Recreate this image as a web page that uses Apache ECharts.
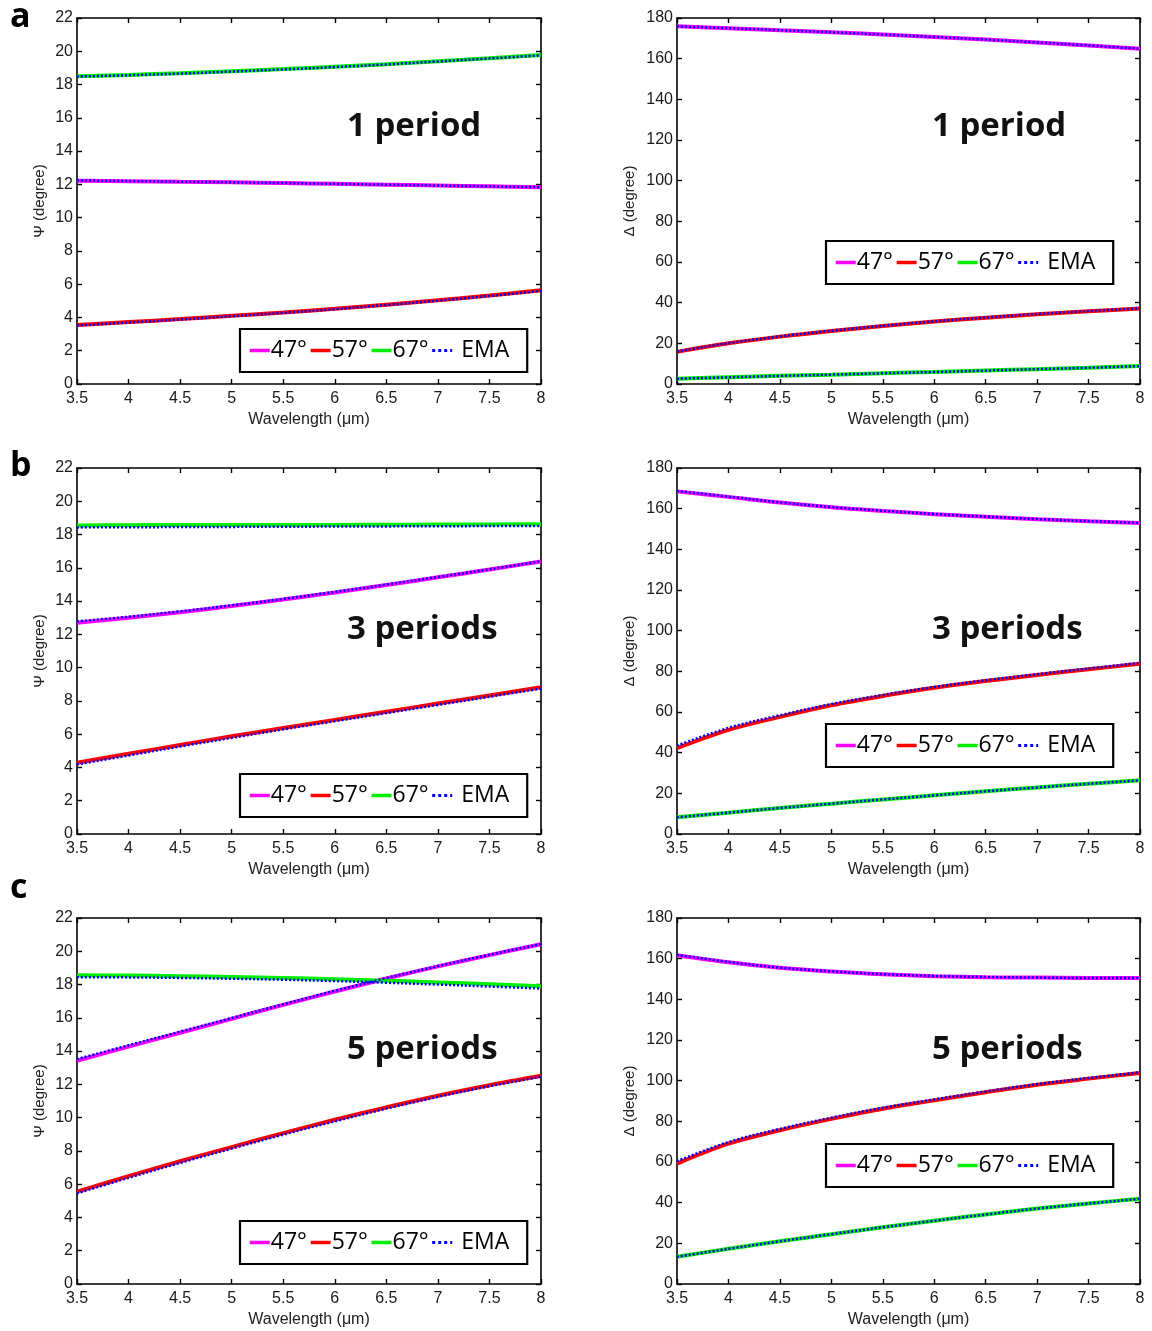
<!DOCTYPE html>
<html>
<head>
<meta charset="utf-8">
<script src="https://cdn.jsdelivr.net/npm/echarts@6/dist/echarts.min.js"></script>
<style>
  html, body { margin: 0; padding: 0; background: #fff; }
  #chart { width: 1152px; height: 1331px; }
</style>
</head>
<body>
<div id="chart"></div>
<script>
// wavelength samples (um)
const wavelength = [3.5, 4, 4.5, 5, 5.5, 6, 6.5, 7, 7.5, 8];
const xTicks = ['3.5', '4', '4.5', '5', '5.5', '6', '6.5', '7', '7.5', '8'];

// a: 1 period
const psiA47 = [12.22, 12.19, 12.15, 12.12, 12.08, 12.03, 11.98, 11.93, 11.88, 11.83];
const psiA57 = [3.55, 3.72, 3.90, 4.10, 4.30, 4.52, 4.77, 5.03, 5.32, 5.63];
const psiA67 = [18.50, 18.58, 18.68, 18.80, 18.93, 19.07, 19.22, 19.40, 19.58, 19.77];
const psiA47ema = [12.24, 12.20, 12.16, 12.12, 12.08, 12.03, 11.98, 11.93, 11.88, 11.83];
const psiA57ema = [3.52, 3.70, 3.88, 4.08, 4.28, 4.50, 4.75, 5.01, 5.29, 5.60];
const psiA67ema = [18.48, 18.56, 18.66, 18.78, 18.91, 19.05, 19.21, 19.39, 19.57, 19.76];
const dltA47 = [175.9, 175.0, 174.0, 173.0, 171.9, 170.7, 169.4, 168.0, 166.5, 164.9];
const dltA57 = [15.8, 20.0, 23.3, 26.1, 28.5, 30.7, 32.6, 34.3, 35.8, 37.1];
const dltA67 = [2.6, 3.3, 4.0, 4.6, 5.3, 5.9, 6.6, 7.3, 8.0, 8.8];
const dltA47ema = [175.9, 175.0, 174.0, 173.0, 171.9, 170.7, 169.4, 168.0, 166.5, 164.9];
const dltA57ema = [16.0, 20.1, 23.4, 26.2, 28.6, 30.8, 32.7, 34.4, 35.9, 37.2];
const dltA67ema = [2.6, 3.3, 4.0, 4.6, 5.3, 5.9, 6.6, 7.3, 8.0, 8.8];

// b: 3 periods
const psiB47 = [12.70, 13.00, 13.33, 13.70, 14.10, 14.52, 14.97, 15.43, 15.90, 16.38];
const psiB57 = [4.28, 4.82, 5.35, 5.87, 6.37, 6.86, 7.35, 7.84, 8.33, 8.82];
const psiB67 = [18.55, 18.56, 18.57, 18.57, 18.58, 18.58, 18.59, 18.60, 18.61, 18.62];
const psiB47ema = [12.78, 13.06, 13.38, 13.74, 14.13, 14.55, 14.99, 15.45, 15.91, 16.39];
const psiB57ema = [4.18, 4.72, 5.26, 5.78, 6.29, 6.78, 7.27, 7.76, 8.25, 8.74];
const psiB67ema = [18.43, 18.44, 18.45, 18.46, 18.47, 18.48, 18.49, 18.50, 18.51, 18.52];
const dltB47 = [168.5, 165.8, 163.0, 160.7, 158.9, 157.3, 156.0, 154.8, 153.8, 152.9];
const dltB57 = [42.2, 51.2, 57.6, 63.3, 67.9, 71.9, 75.2, 78.2, 81.0, 83.7];
const dltB67 = [8.2, 10.5, 12.8, 14.9, 17.0, 19.0, 21.0, 22.9, 24.7, 26.4];
const dltB47ema = [168.7, 165.9, 163.1, 160.8, 159.0, 157.4, 156.1, 154.9, 153.9, 153.0];
const dltB57ema = [43.5, 52.2, 58.4, 63.9, 68.4, 72.3, 75.6, 78.6, 81.4, 84.2];
const dltB67ema = [8.2, 10.5, 12.8, 14.9, 17.0, 19.0, 21.0, 22.9, 24.7, 26.4];

// c: 5 periods
const psiC47 = [13.42, 14.27, 15.10, 15.94, 16.78, 17.58, 18.36, 19.09, 19.77, 20.42];
const psiC57 = [5.55, 6.48, 7.38, 8.23, 9.07, 9.87, 10.62, 11.32, 11.95, 12.52];
const psiC67 = [18.56, 18.54, 18.50, 18.45, 18.39, 18.32, 18.23, 18.13, 18.02, 17.90];
const psiC47ema = [13.52, 14.35, 15.17, 15.99, 16.82, 17.62, 18.39, 19.11, 19.79, 20.43];
const psiC57ema = [5.45, 6.38, 7.28, 8.14, 8.98, 9.78, 10.54, 11.25, 11.89, 12.46];
const psiC67ema = [18.44, 18.43, 18.40, 18.35, 18.29, 18.21, 18.11, 18.00, 17.88, 17.76];
const dltC47 = [161.7, 158.2, 155.5, 153.7, 152.3, 151.4, 150.9, 150.7, 150.5, 150.5];
const dltC57 = [59.2, 69.0, 75.6, 81.2, 86.2, 90.3, 94.3, 98.0, 101.0, 103.8];
const dltC67 = [13.4, 17.3, 21.0, 24.5, 27.9, 31.1, 34.2, 37.1, 39.6, 41.9];
const dltC47ema = [161.9, 158.4, 155.6, 153.8, 152.4, 151.5, 151.0, 150.7, 150.5, 150.5];
const dltC57ema = [60.4, 69.8, 76.3, 81.8, 86.7, 90.8, 94.7, 98.3, 101.3, 104.1];
const dltC67ema = [13.4, 17.3, 21.0, 24.5, 27.9, 31.1, 34.2, 37.1, 39.6, 41.9];

const legendNames = ['47°', '57°', '67°', 'EMA'];
const angleColors = ['#ff00ff', '#ff0000', '#00ee00'];
const emaColor = '#0000ff';

// one entry per panel: which arrays go where
const panels = [
  { row: 0, col: 0, kind: 'psi', label: '1 period', lines: [psiA47, psiA57, psiA67], ema: [psiA47ema, psiA57ema, psiA67ema], textY: 127, legendTop: 329 },
  { row: 0, col: 1, kind: 'dlt', label: '1 period', lines: [dltA47, dltA57, dltA67], ema: [dltA47ema, dltA57ema, dltA67ema], textY: 127, legendTop: 241 },
  { row: 1, col: 0, kind: 'psi', label: '3 periods', lines: [psiB47, psiB57, psiB67], ema: [psiB47ema, psiB57ema, psiB67ema], textY: 630, legendTop: 774 },
  { row: 1, col: 1, kind: 'dlt', label: '3 periods', lines: [dltB47, dltB57, dltB67], ema: [dltB47ema, dltB57ema, dltB67ema], textY: 630, legendTop: 724 },
  { row: 2, col: 0, kind: 'psi', label: '5 periods', lines: [psiC47, psiC57, psiC67], ema: [psiC47ema, psiC57ema, psiC67ema], textY: 1050, legendTop: 1221 },
  { row: 2, col: 1, kind: 'dlt', label: '5 periods', lines: [dltC47, dltC57, dltC67], ema: [dltC47ema, dltC57ema, dltC67ema], textY: 1050, legendTop: 1144 }
];

const gridLeft = [77, 677];
const gridWidth = [464, 463];
const gridTop = [18, 468, 918];
const gridHeight = 366;

const pairs = arr => wavelength.map((x, i) => [x, arr[i]]);
const tickColor = '#1a1a1a';

const legendData = [
  { name: '47°', lineStyle: { width: 3.5 } },
  { name: '57°', lineStyle: { width: 3.5 } },
  { name: '67°', lineStyle: { width: 3.5 } },
  { name: 'EMA', lineStyle: { width: 3, type: [3, 3] }, textStyle: { padding: [0, 0, 0, 4] } }
];

const grids = [], xAxes = [], yAxes = [], series = [], legends = [], graphics = [];

panels.forEach((p, i) => {
  const isPsi = p.kind === 'psi';
  const yMax = isPsi ? 22 : 180;
  const yStep = isPsi ? 2 : 20;
  grids.push({
    left: gridLeft[p.col], top: gridTop[p.row],
    width: gridWidth[p.col], height: gridHeight,
    show: false
  });
  const axisLine = { show: true, onZero: false, lineStyle: { color: '#000', width: 1.6 } };
  const axisTick = { show: true, inside: true, length: 5, lineStyle: { color: '#000', width: 1.4 } };
  xAxes.push({
    type: 'value', gridIndex: i, position: 'bottom',
    min: 3.5, max: 8, interval: 0.5,
    axisLine, axisTick, splitLine: { show: false },
    axisLabel: {
      color: tickColor, fontFamily: 'Liberation Sans, Arial', fontSize: 16, margin: 7,
      formatter: v => xTicks[Math.round((v - 3.5) / 0.5)]
    },
    name: 'Wavelength (\u03bcm)', nameLocation: 'middle', nameGap: 28,
    nameTextStyle: { color: '#222', fontFamily: 'Liberation Sans, Arial', fontSize: 16 }
  });
  xAxes.push({
    type: 'value', gridIndex: i, position: 'top',
    min: 3.5, max: 8, interval: 0.5,
    axisLine, axisTick, splitLine: { show: false }, axisLabel: { show: false }
  });
  yAxes.push({
    type: 'value', gridIndex: i, position: 'left',
    min: 0, max: yMax, interval: yStep,
    axisLine, axisTick, splitLine: { show: false },
    axisLabel: { color: tickColor, fontFamily: 'Liberation Sans, Arial', fontSize: 16, margin: 4 },
    name: isPsi ? '\u03a8 (degree)' : '\u0394 (degree)',
    nameLocation: 'middle', nameGap: isPsi ? 30 : 40,
    nameTextStyle: { color: '#222', fontFamily: 'Liberation Sans, Arial', fontSize: 15 }
  });
  yAxes.push({
    type: 'value', gridIndex: i, position: 'right',
    min: 0, max: yMax, interval: yStep,
    axisLine, axisTick, splitLine: { show: false }, axisLabel: { show: false }
  });

  p.lines.forEach((arr, k) => {
    series.push({
      type: 'line', name: legendNames[k], xAxisIndex: 2 * i, yAxisIndex: 2 * i,
      data: pairs(arr), smooth: 0.35, symbol: 'none', z: 2,
      color: angleColors[k],
      lineStyle: { color: angleColors[k], width: 4 }
    });
  });
  p.ema.forEach(arr => {
    series.push({
      type: 'line', name: 'EMA', xAxisIndex: 2 * i, yAxisIndex: 2 * i,
      data: pairs(arr), smooth: 0.35, symbol: 'none', z: 3,
      color: emaColor,
      lineStyle: { color: emaColor, width: 2.5, type: [2, 2] }
    });
  });

  legends.push({
    data: legendData,
    left: p.col === 0 ? 240 : 826, top: p.legendTop,
    orient: 'horizontal', selectedMode: false,
    itemWidth: 20, itemHeight: 14, itemGap: 2,
    padding: [10, 18, 10, 8],
    backgroundColor: '#fff', borderColor: '#000', borderWidth: 2.2,
    itemStyle: { opacity: 0 },
    textStyle: { color: '#000', fontFamily: 'Open Sans', fontSize: 23, padding: [0, 0, 0, -4] }
  });

  graphics.push({
    type: 'text',
    x: p.col === 0 ? 347 : 932, y: p.textY,
    style: {
      text: p.label, fill: '#111', font: 'bold 33px "Open Sans"',
      align: 'left', verticalAlign: 'middle'
    }
  });
});

['a', 'b', 'c'].forEach((t, r) => {
  graphics.push({
    type: 'text', x: 10, y: [17, 466, 888][r],
    style: { text: t, fill: '#000', font: 'bold 34px "Open Sans"', align: 'left', verticalAlign: 'middle' }
  });
});

const chart = echarts.init(document.getElementById('chart'), null, { renderer: 'canvas' });
chart.setOption({
  animation: false,
  backgroundColor: '#fff',
  grid: grids,
  xAxis: xAxes,
  yAxis: yAxes,
  legend: legends,
  graphic: graphics,
  series: series
});
</script>
</body>
</html>
